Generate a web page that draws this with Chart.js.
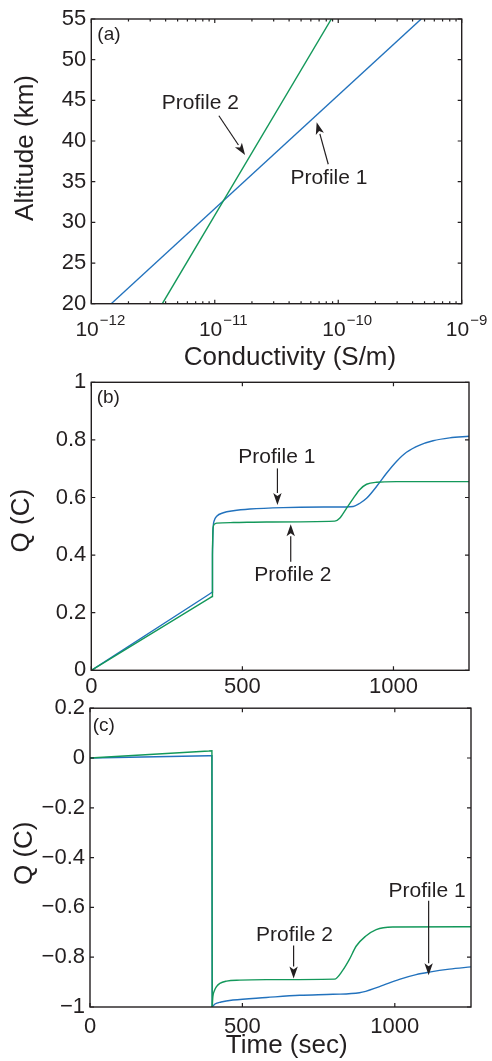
<!DOCTYPE html>
<html>
<head>
<meta charset="utf-8">
<script src="https://cdn.jsdelivr.net/npm/chart.js@4.4.1/dist/chart.umd.min.js"></script>
<style>
  html, body { margin: 0; padding: 0; background: #fff; }
  body { width: 492px; height: 1061px; position: relative; overflow: hidden; }
  canvas { position: absolute; left: 0; }
</style>
</head>
<body>
<canvas id="chartA" width="492" height="372" style="top:0px"></canvas>
<canvas id="chartB" width="492" height="340" style="top:360px"></canvas>
<canvas id="chartC" width="492" height="371" style="top:690px"></canvas>
<script>
// ── Data ──────────────────────────────────────────────────
// (a) conductivity profiles
const altitude      = [20, 55];
const sigmaProfile1 = [1.45e-12, 4.7e-10];
const sigmaProfile2 = [3.76e-12, 8.8e-11];
const condTicks     = [1e-12, 1e-11, 1e-10, 1e-9];
const condExponents = ['\u221212', '\u221211', '\u221210', '\u22129'];
const altTicks      = [20, 25, 30, 35, 40, 45, 50, 55];

// (b) charge, positive stroke
const bTime1 = [0, 390, 400, 401, 403, 407, 415, 437, 470, 525, 635, 800, 867, 889, 911, 944, 977, 1010, 1043, 1087, 1131, 1186, 1250];
const bQ1    = [0, 0.264, 0.271, 0.40, 0.49, 0.52, 0.535, 0.547, 0.554, 0.560, 0.565, 0.567, 0.569, 0.580, 0.597, 0.638, 0.684, 0.725, 0.757, 0.782, 0.797, 0.807, 0.8125];
const bTime2 = [0, 390, 400, 401, 403, 408, 415, 470, 580, 806, 822, 845, 867, 889, 911, 944, 1010, 1250];
const bQ2    = [0, 0.25, 0.256, 0.42, 0.495, 0.508, 0.511, 0.513, 0.515, 0.518, 0.528, 0.563, 0.597, 0.628, 0.646, 0.653, 0.655, 0.655];
const bYTicks  = [0, 0.2, 0.4, 0.6, 0.8, 1];
const bYLabels = ['0', '0.2', '0.4', '0.6', '0.8', '1'];

// (c) charge, negative stroke
const cTime1 = [0, 390, 400, 401, 410, 430, 469, 579, 688, 797, 884, 950, 1015, 1070, 1113, 1179, 1250];
const cQ1    = [0, 0.0088, 0.009, -1, -0.988, -0.98, -0.972, -0.962, -0.953, -0.949, -0.943, -0.918, -0.889, -0.870, -0.860, -0.848, -0.839];
const cTime2 = [0, 390, 400, 401, 403, 408, 415, 426, 448, 491, 579, 802, 829, 851, 873, 904, 939, 993, 1250];
const cQ2    = [0, 0.028, 0.029, -1, -0.96, -0.935, -0.918, -0.905, -0.896, -0.892, -0.890, -0.888, -0.853, -0.809, -0.756, -0.716, -0.689, -0.679, -0.678];
const cYTicks  = [-1, -0.8, -0.6, -0.4, -0.2, 0, 0.2];
const cYLabels = ['\u22121', '\u22120.8', '\u22120.6', '\u22120.4', '\u22120.2', '0', '0.2'];

const timeTicks  = [0, 500, 1000];
const timeLabels = ['0', '500', '1000'];
const STEP_END   = 401;   // first sample after the stroke step

// ── Style ─────────────────────────────────────────────────
const INK   = '#231f20';
const BLUE  = '#2272bd';
const GREEN = '#13985a';
const FONT  = "'Liberation Sans', Arial, Helvetica, sans-serif";
Chart.defaults.font.family = FONT;
Chart.defaults.color = INK;

const xy = (xs, ys) => xs.map((x, i) => ({ x, y: ys[i] }));

function line(data, color, smooth) {
  return {
    data, borderColor: color, borderWidth: 1.4, showLine: true,
    pointRadius: 0, fill: false,
    cubicInterpolationMode: smooth ? 'monotone' : 'default', tension: 0,
  };
}

// straight ramp + step, then the smooth relaxation after the step
function series(xs, ys, color) {
  const k = xs.indexOf(STEP_END);
  return [
    line(xy(xs.slice(0, k + 1), ys.slice(0, k + 1)), color, false),
    line(xy(xs.slice(k), ys.slice(k)), color, true),
  ];
}

function arrow(ctx, x0, y0, x1, y1) {
  const a = Math.atan2(y1 - y0, x1 - x0), len = 12, hw = 4.2;
  const bx = x1 - len * Math.cos(a), by = y1 - len * Math.sin(a);
  ctx.beginPath(); ctx.moveTo(x0, y0); ctx.lineTo(bx, by); ctx.stroke();
  ctx.beginPath();
  ctx.moveTo(x1, y1);
  ctx.lineTo(bx + hw * Math.sin(a), by - hw * Math.cos(a));
  ctx.lineTo(x1 - (len - 3) * Math.cos(a), y1 - (len - 3) * Math.sin(a));
  ctx.lineTo(bx - hw * Math.sin(a), by + hw * Math.cos(a));
  ctx.closePath(); ctx.fill();
}

// box, inward ticks, panel letter, notes and axis titles (MATLAB look)
function framePlugin(cfg) {
  return {
    id: 'frame',
    afterDatasetsDraw(chart) {
      const { ctx, chartArea: a, scales: { x, y } } = chart;
      ctx.save();
      ctx.strokeStyle = INK; ctx.fillStyle = INK; ctx.lineWidth = 1.2;
      ctx.beginPath();
      const xt = (v, l) => { const p = x.getPixelForValue(v); ctx.moveTo(p, a.bottom); ctx.lineTo(p, a.bottom - l); ctx.moveTo(p, a.top); ctx.lineTo(p, a.top + l); };
      const yt = (v, l) => { const p = y.getPixelForValue(v); ctx.moveTo(a.left, p); ctx.lineTo(a.left + l, p); ctx.moveTo(a.right, p); ctx.lineTo(a.right - l, p); };
      cfg.xTicks.forEach(v => xt(v, 4));
      if (cfg.logMinor) {
        cfg.xTicks.slice(0, -1).forEach(d => { for (let k = 2; k <= 9; k++) xt(k * d, 2.5); });
      }
      cfg.yTicks.forEach(v => yt(v, 4));
      ctx.stroke();
      ctx.lineWidth = 1.4;
      ctx.strokeRect(a.left, a.top, a.right - a.left, a.bottom - a.top);

      // log tick labels 10^n
      if (cfg.logLabels) {
        cfg.xTicks.forEach((v, i) => {
          const p = x.getPixelForValue(v);
          ctx.font = '21px ' + FONT; ctx.textAlign = 'right'; ctx.textBaseline = 'alphabetic';
          ctx.fillText('10', p + 7.5, a.bottom + 32);
          ctx.font = '15px ' + FONT; ctx.textAlign = 'left';
          ctx.fillText(cfg.logLabels[i], p + 8.5, a.bottom + 21);
        });
      }

      // panel letter
      ctx.font = '19px ' + FONT; ctx.textAlign = 'left'; ctx.textBaseline = 'alphabetic';
      ctx.fillText(cfg.letter.text, a.left + cfg.letter.dx, a.top + cfg.letter.dy);

      // profile notes with arrows
      ctx.lineWidth = 1.2;
      cfg.notes.forEach(n => {
        ctx.font = '21px ' + FONT; ctx.textAlign = 'center';
        ctx.fillText(n.text, x.getPixelForValue(n.tx), y.getPixelForValue(n.ty));
        arrow(ctx, x.getPixelForValue(n.from[0]), y.getPixelForValue(n.from[1]),
                   x.getPixelForValue(n.to[0]),   y.getPixelForValue(n.to[1]));
      });

      // axis titles
      ctx.font = cfg.titleFont + 'px ' + FONT;
      if (cfg.xTitle) {
        ctx.textAlign = 'center'; ctx.textBaseline = 'alphabetic';
        ctx.fillText(cfg.xTitle.text, cfg.xTitle.x, cfg.xTitle.y);
      }
      if (cfg.yTitle) {
        ctx.save();
        ctx.translate(cfg.yTitle.x, cfg.yTitle.y);
        ctx.rotate(-Math.PI / 2);
        ctx.textAlign = 'center'; ctx.textBaseline = 'middle';
        ctx.fillText(cfg.yTitle.text, 0, 0);
        ctx.restore();
      }
      ctx.restore();
    },
  };
}

function makePanel(id, p) {
  return new Chart(document.getElementById(id), {
    type: 'scatter',
    data: { datasets: p.datasets },
    options: {
      responsive: false,
      animation: false,
      layout: { padding: p.padding },
      plugins: { legend: { display: false }, tooltip: { enabled: false } },
      scales: {
        x: {
          type: p.xType, min: p.xMin, max: p.xMax,
          grid: { display: false, drawTicks: false }, border: { display: false },
          ticks: {
            display: !!p.xLabels, padding: p.xPad, maxRotation: 0, autoSkip: false,
            font: { size: 22 }, color: INK,
            callback: (v, i) => p.xLabels ? p.xLabels[i] : '',
          },
          afterBuildTicks: s => { s.ticks = p.xTicks.map(v => ({ value: v })); },
          afterFit: s => { s.height = p.xHeight; },
        },
        y: {
          type: 'linear', min: p.yMin, max: p.yMax,
          grid: { display: false, drawTicks: false }, border: { display: false },
          ticks: {
            padding: 5, autoSkip: false, font: { size: 22 }, color: INK,
            callback: (v, i) => p.yLabels[i],
          },
          afterBuildTicks: s => { s.ticks = p.yTicks.map(v => ({ value: v })); },
          afterFit: s => { s.width = p.yWidth; },
        },
      },
    },
    plugins: [framePlugin(p.frame)],
  });
}

// ── Panels ────────────────────────────────────────────────
makePanel('chartA', {
  datasets: [line(xy(sigmaProfile2, altitude), GREEN, false), line(xy(sigmaProfile1, altitude), BLUE, false)],
  xType: 'logarithmic', xMin: 1e-12, xMax: 1e-9, xTicks: condTicks, xLabels: null, xPad: 0,
  yMin: 20, yMax: 55, yTicks: altTicks, yLabels: altTicks.map(String),
  padding: { left: 0, top: 19, right: 30.3, bottom: 0 }, yWidth: 91.3, xHeight: 68.3,
  frame: {
    xTicks: condTicks, yTicks: altTicks, logMinor: true, logLabels: condExponents,
    letter: { text: '(a)', dx: 6, dy: 21.3 },
    notes: [
      { text: 'Profile 2', tx: 7.64e-12, ty: 43.94, from: [1.08e-11, 43.11], to: [1.76e-11, 38.28] },
      { text: 'Profile 1', tx: 8.41e-11, ty: 34.68, from: [8.30e-11, 37.14], to: [6.69e-11, 42.30] },
    ],
    titleFont: 26,
    xTitle: { text: 'Conductivity (S/m)', x: 290, y: 365 },
    yTitle: { text: 'Altitude (km)', x: 25.5, y: 148 },
  },
});

makePanel('chartB', {
  datasets: [...series(bTime2, bQ2, GREEN), ...series(bTime1, bQ1, BLUE)],
  xType: 'linear', xMin: 0, xMax: 1250, xTicks: timeTicks, xLabels: timeLabels, xPad: 3,
  yMin: 0, yMax: 1, yTicks: bYTicks, yLabels: bYLabels,
  padding: { left: 0, top: 22.3, right: 23, bottom: 0 }, yWidth: 91.3, xHeight: 29.7,
  frame: {
    xTicks: timeTicks, yTicks: bYTicks,
    letter: { text: '(b)', dx: 5.4, dy: 20.4 },
    notes: [
      { text: 'Profile 1', tx: 614, ty: 0.719, from: [616, 0.701], to: [616, 0.574] },
      { text: 'Profile 2', tx: 667, ty: 0.311, from: [660, 0.377], to: [660, 0.507] },
    ],
    titleFont: 26,
    yTitle: { text: 'Q (C)', x: 21.7, y: 160.7 },
  },
});

makePanel('chartC', {
  datasets: [...series(cTime2, cQ2, GREEN), ...series(cTime1, cQ1, BLUE)],
  xType: 'linear', xMin: 0, xMax: 1250, xTicks: timeTicks, xLabels: timeLabels, xPad: 7,
  yMin: -1, yMax: 0.2, yTicks: cYTicks, yLabels: cYLabels,
  padding: { left: 0, top: 15.7, right: 21, bottom: 0 }, yWidth: 90, xHeight: 54,
  frame: {
    xTicks: timeTicks, yTicks: cYTicks,
    letter: { text: '(c)', dx: 2.7, dy: 23 },
    notes: [
      { text: 'Profile 1', tx: 1106, ty: -0.558, from: [1111, -0.573], to: [1111, -0.872] },
      { text: 'Profile 2', tx: 671, ty: -0.733, from: [668, -0.753], to: [668, -0.886] },
    ],
    titleFont: 26,
    xTitle: { text: 'Time (sec)', x: 286.7, y: 363 },
    yTitle: { text: 'Q (C)', x: 24.5, y: 163.3 },
  },
});
</script>
</body>
</html>
